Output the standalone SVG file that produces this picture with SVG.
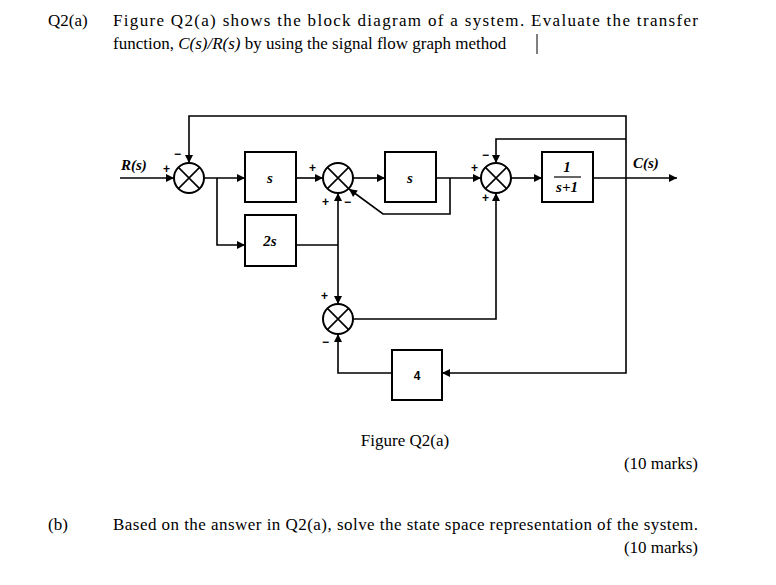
<svg xmlns="http://www.w3.org/2000/svg" width="776" height="585" viewBox="0 0 776 585">
<defs>
<marker id="ar" viewBox="0 0 10 10" refX="10" refY="5" markerWidth="11" markerHeight="8" markerUnits="userSpaceOnUse" orient="auto"><path d="M0,0L10,5L0,10z" fill="#000"/></marker>
<style>
.t{font-family:"Liberation Serif",serif;font-size:17px;fill:#000}
.d{font-family:"Liberation Serif",serif;font-style:italic;font-weight:bold;font-size:15px;fill:#000}
.g{font-family:"Liberation Sans",sans-serif;font-weight:bold;font-size:12px;fill:#000}
.b{fill:#fff;stroke:#000;stroke-width:2}
.l{fill:none;stroke:#000;stroke-width:1.6}
.a{fill:none;stroke:#000;stroke-width:1.6;marker-end:url(#ar)}
</style>
</defs>
<rect width="776" height="585" fill="#fff"/>
<text class="t" x="48" y="26">Q2(a)</text>
<text class="t" x="113" y="26" textLength="585" lengthAdjust="spacing">Figure Q2(a) shows the block diagram of a system. Evaluate the transfer</text>
<text class="t" x="113" y="49">function, <tspan font-style="italic">C(s)/R(s)</tspan> by using the signal flow graph method</text>
<line x1="537" y1="34" x2="537" y2="54" stroke="#000" stroke-width="1"/>
<g id="connectors">
<line class="a" x1="120" y1="178" x2="174" y2="178"/>
<line class="a" x1="204" y1="178" x2="245" y2="178"/>
<polyline class="a" points="217,178 217,245 245,245"/>
<line class="a" x1="296" y1="178" x2="323" y2="178"/>
<line class="l" x1="296" y1="245" x2="338" y2="245"/>
<line class="a" x1="338" y1="245" x2="338" y2="193"/>
<line class="a" x1="338" y1="245" x2="338" y2="304"/>
<line class="a" x1="353" y1="178" x2="385" y2="178"/>
<line class="a" x1="436" y1="178" x2="481" y2="178"/>
<polyline class="a" points="450,178 450,214 383,214 349,189"/>
<line class="a" x1="511" y1="178" x2="542" y2="178"/>
<line class="a" x1="593" y1="178" x2="677" y2="178"/>
<polyline class="a" points="626,178 626,116 189,116 189,163"/>
<polyline class="a" points="626,139 496,139 496,163"/>
<polyline class="a" points="353,319 496,319 496,193"/>
<polyline class="a" points="626,178 626,373 442,373"/>
<polyline class="a" points="392,373 338,373 338,334"/>
</g>
<g id="sum1"><circle class="b" cx="189" cy="178" r="15"/><path class="l" d="M178.4,167.4L199.6,188.6M199.6,167.4L178.4,188.6"/><text class="g" x="163" y="173">+</text><text class="g" x="174" y="158">−</text></g>
<g id="sum2"><circle class="b" cx="338" cy="178" r="15"/><path class="l" d="M327.4,167.4L348.6,188.6M348.6,167.4L327.4,188.6"/><text class="g" x="309" y="172">+</text><text class="g" x="322" y="206">+</text><text class="g" x="344" y="206">−</text></g>
<g id="sum3"><circle class="b" cx="496" cy="178" r="15"/><path class="l" d="M485.4,167.4L506.6,188.6M506.6,167.4L485.4,188.6"/><text class="g" x="471" y="172">+</text><text class="g" x="482" y="159">−</text><text class="g" x="482" y="202">+</text></g>
<g id="sum4"><circle class="b" cx="338" cy="319" r="15"/><path class="l" d="M327.4,308.4L348.6,329.6M348.6,308.4L327.4,329.6"/><text class="g" x="321" y="300">+</text><text class="g" x="322" y="346">−</text></g>
<g id="blockS1"><rect class="b" x="245" y="152" width="51" height="50"/><text class="d" x="270" y="183" text-anchor="middle">s</text></g>
<g id="block2s"><rect class="b" x="245" y="215" width="51" height="51"/><text class="d" x="270" y="246" text-anchor="middle" font-weight="normal">2s</text></g>
<g id="blockS2"><rect class="b" x="385" y="152" width="51" height="50"/><text class="d" x="410" y="183" text-anchor="middle">s</text></g>
<g id="blockG"><rect class="b" x="542" y="152" width="51" height="50"/><text class="d" x="567" y="172" text-anchor="middle" font-style="normal" font-size="13">1</text><line x1="554" y1="177" x2="581" y2="177" stroke="#000" stroke-width="1.2"/><text class="d" x="567" y="192" text-anchor="middle" font-size="13">s+1</text></g>
<g id="block4"><rect class="b" x="392" y="350" width="50" height="50"/><text class="g" x="417" y="380" text-anchor="middle">4</text></g>
<text class="d" x="121" y="170">R(s)</text>
<text class="d" x="633" y="168" font-weight="normal">C(s)</text>
<text class="t" x="405" y="446" text-anchor="middle">Figure Q2(a)</text>
<text class="t" x="698" y="469" text-anchor="end">(10 marks)</text>
<text class="t" x="48" y="530">(b)</text>
<text class="t" x="113" y="530" textLength="585" lengthAdjust="spacing">Based on the answer in Q2(a), solve the state space representation of the system.</text>
<text class="t" x="698" y="553" text-anchor="end">(10 marks)</text>
</svg>
